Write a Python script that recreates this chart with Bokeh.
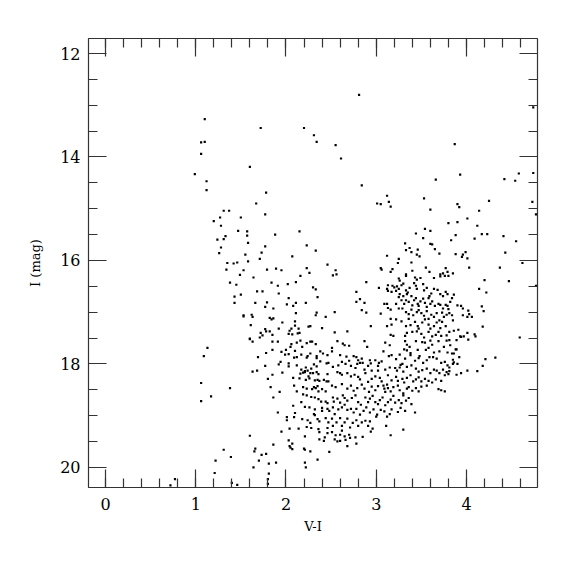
from bokeh.plotting import figure
from bokeh.models import Range1d, LinearAxis, FixedTicker
from bokeh.embed import file_html
from bokeh.resources import INLINE

# --- data: V-I colour and I magnitude of stars ---
# bright / sparse stars
vi_bright = [1.10, 1.06, 1.10, 1.06, 0.99, 1.12, 1.72, 2.20, 2.31, 2.34, 1.60,
             2.81, 2.55, 2.61, 3.66, 2.84, 4.74, 3.87, 3.93, 4.42, 4.58, 4.54, 4.74, 1.12]
i_bright = [13.27, 13.72, 13.71, 13.94, 14.33, 14.47, 13.44, 13.44, 13.58, 13.71, 14.19,
            12.80, 13.77, 14.03, 14.44, 14.55, 13.04, 13.75, 14.34, 14.43, 14.32, 14.46, 14.31, 14.64]

# blue / upper-left region
vi_blue = [1.78, 1.67, 1.31, 1.37, 1.27, 1.50, 1.77, 1.20, 1.28, 1.47, 1.57, 1.57, 1.88, 2.15,
           1.33, 1.24, 1.31, 1.58, 1.77, 1.28, 2.23, 2.33, 1.26, 1.73, 1.55, 2.07, 1.71, 1.58,
           1.35, 1.42, 1.46, 2.46, 1.34, 1.53, 1.79, 1.89, 1.95, 2.23, 2.26, 1.49, 2.16, 1.64,
           1.38, 1.45, 1.84, 1.91, 2.02, 2.11, 2.30, 2.33, 1.68, 1.74, 1.50, 1.43, 1.92, 2.03,
           2.35, 1.43, 1.66, 1.79, 2.01, 2.08, 2.11, 2.22, 1.77, 1.86, 1.53, 1.53, 1.62, 1.63,
           1.82, 1.84, 1.86, 2.11, 2.34, 2.33, 2.44, 1.96, 1.61, 2.10, 2.10, 2.25, 2.27, 2.40,
           1.92, 1.77, 1.78, 1.82, 2.06, 2.04, 2.14, 1.72, 1.74, 1.85, 2.03, 2.07, 2.13, 2.15,
           1.71, 1.60]
i_blue = [14.69, 14.90, 15.04, 15.04, 15.17, 15.17, 15.11, 15.24, 15.33, 15.43, 15.44, 15.52,
          15.50, 15.44, 15.53, 15.60, 15.59, 15.66, 15.73, 15.75, 15.71, 15.81, 15.86, 15.85,
          15.89, 15.92, 15.97, 16.02, 16.05, 16.06, 16.04, 16.08, 16.18, 16.19, 16.18, 16.16,
          16.19, 16.15, 16.24, 16.28, 16.30, 16.33, 16.43, 16.47, 16.43, 16.49, 16.46, 16.42,
          16.52, 16.56, 16.60, 16.60, 16.66, 16.70, 16.64, 16.73, 16.71, 16.82, 16.82, 16.81,
          16.85, 16.88, 16.82, 16.82, 16.90, 16.93, 17.06, 17.08, 17.05, 17.09, 17.11, 17.14,
          17.12, 17.02, 17.01, 17.06, 17.09, 17.20, 17.25, 17.18, 17.26, 17.28, 17.27, 17.31,
          17.32, 17.33, 17.37, 17.37, 17.32, 17.36, 17.32, 17.40, 17.45, 17.44, 17.42, 17.43,
          17.41, 17.40, 17.49, 17.51]

# red giant region (upper part)
vi_red = [3.12, 3.01, 3.05, 3.14, 3.16, 3.53, 3.60, 3.80, 3.44, 3.54, 3.60, 3.52, 3.32, 3.60,
          3.62, 3.37, 3.46, 3.65, 3.33, 3.39, 3.45, 3.48, 3.70, 3.12, 3.25, 3.24, 3.39, 3.05,
          3.06, 3.18, 3.16, 3.55, 3.59, 3.77, 3.79, 3.74, 2.55, 2.52, 2.56, 3.40, 3.33, 3.33,
          3.43]
i_red = [14.75, 14.90, 14.91, 14.87, 14.96, 14.80, 15.02, 15.28, 15.48, 15.39, 15.43, 15.57,
         15.67, 15.68, 15.69, 15.76, 15.79, 15.78, 15.80, 15.84, 15.89, 15.92, 15.87, 15.91,
         15.97, 16.05, 16.04, 16.15, 16.18, 16.17, 16.22, 16.14, 16.22, 16.15, 16.22, 16.25,
         16.19, 16.29, 16.27, 16.20, 16.27, 16.30, 16.33]

# very red stars
vi_vred = [4.25, 3.90, 3.92, 4.73, 4.14, 4.77, 4.01, 3.90, 4.12, 3.88, 3.83, 4.09, 4.17, 4.23,
           4.41, 4.55, 3.88, 3.96, 3.95, 3.99, 4.01, 4.43, 4.62, 4.03, 4.37, 3.85, 3.80, 4.20,
           4.47, 4.77, 4.14, 4.22, 4.17, 4.19, 4.18, 4.09, 4.10, 4.59, 4.21, 4.32, 4.18, 4.12]
i_vred = [14.85, 14.91, 14.97, 14.87, 15.04, 15.11, 15.19, 15.26, 15.33, 15.51, 15.61, 15.58,
          15.49, 15.49, 15.53, 15.63, 15.88, 15.89, 15.93, 15.84, 15.96, 15.85, 16.05, 16.14,
          16.14, 16.25, 16.30, 16.38, 16.40, 16.49, 16.55, 16.62, 16.89, 16.98, 17.28, 17.43,
          17.47, 17.49, 17.91, 17.88, 18.04, 18.14]

# faint blue stars
vi_faint = [1.13, 1.09, 1.06, 1.06, 0.77, 0.72]
i_faint = [17.69, 17.85, 18.37, 18.72, 20.23, 20.35]

# main body, left part
vi_body = [1.60, 1.63, 1.85, 1.91, 2.06, 2.12, 2.16, 2.23, 2.27, 2.29, 2.33, 2.05, 2.00, 2.18,
           1.78, 1.85, 1.95, 1.99, 2.03, 2.10, 2.12, 2.17, 2.23, 2.24, 2.27, 2.34, 2.34, 2.38,
           2.41, 2.46, 1.69, 1.94, 1.92, 2.03, 2.09, 1.77, 2.03, 2.12, 2.17, 2.22, 2.24, 2.21,
           2.28, 2.31, 2.34, 2.38, 2.45, 1.63, 1.68, 1.85, 1.96, 2.16, 2.19, 2.21, 2.25, 2.27,
           2.30, 2.34, 2.36, 2.46, 1.80, 2.08, 2.15, 2.26, 2.22, 2.32, 2.35, 2.37, 2.42, 2.45,
           1.17, 1.38, 1.83, 1.93, 2.09, 2.19, 2.23, 2.12, 2.29, 2.31, 2.35, 2.33, 2.36, 2.40,
           2.44, 1.86, 2.19, 2.23, 2.28, 2.32, 2.36, 2.39, 2.44, 2.46, 2.08, 2.17, 2.21, 2.26,
           2.32, 2.40, 2.40, 2.46, 1.91, 2.01, 2.01, 2.09, 2.10, 2.31, 2.32, 2.18, 2.24, 2.27,
           2.35, 2.37, 2.44, 1.95, 2.04, 2.14, 2.23, 2.28, 2.36, 2.37, 2.46, 1.60, 2.03, 2.07,
           2.04, 2.05, 2.07, 2.21, 2.37, 2.42, 2.43, 2.46, 1.31, 1.66, 1.65, 1.73, 1.78, 1.86,
           2.20, 2.21, 2.27, 1.39, 1.22, 1.70, 1.81, 1.89, 2.21, 2.35, 1.21, 1.64, 2.22, 1.81,
           1.40, 1.46, 1.80, 1.80]
i_body = [17.52, 17.57, 17.57, 17.57, 17.62, 17.59, 17.55, 17.60, 17.57, 17.57, 17.62, 17.67,
          17.73, 17.67, 17.79, 17.73, 17.77, 17.82, 17.81, 17.75, 17.87, 17.82, 17.88, 17.85,
          17.80, 17.85, 17.89, 17.76, 17.80, 17.83, 17.87, 17.96, 18.01, 17.99, 17.88, 18.04,
          18.05, 18.03, 18.11, 18.07, 18.13, 18.14, 18.09, 18.01, 18.05, 17.95, 17.99, 18.15,
          18.13, 18.21, 18.17, 18.19, 18.17, 18.16, 18.24, 18.18, 18.18, 18.16, 18.20, 18.20,
          18.29, 18.27, 18.28, 18.28, 18.31, 18.32, 18.31, 18.33, 18.31, 18.34, 18.63, 18.47,
          18.45, 18.54, 18.42, 18.45, 18.48, 18.53, 18.49, 18.45, 18.43, 18.47, 18.53, 18.49,
          18.53, 18.65, 18.59, 18.61, 18.64, 18.65, 18.68, 18.73, 18.73, 18.76, 18.81, 18.74,
          18.83, 18.84, 18.88, 18.85, 18.91, 18.87, 18.94, 19.03, 19.09, 19.03, 18.95, 18.97,
          18.99, 19.07, 19.09, 19.14, 19.07, 19.11, 19.05, 19.31, 19.25, 19.25, 19.22, 19.24,
          19.26, 19.32, 19.24, 19.39, 19.48, 19.54, 19.59, 19.62, 19.65, 19.40, 19.46, 19.49,
          19.42, 19.34, 19.66, 19.64, 19.69, 19.76, 19.74, 19.56, 19.64, 19.66, 19.69, 19.80,
          19.87, 19.87, 19.93, 19.91, 19.91, 19.85, 20.11, 20.00, 20.00, 20.12, 20.30, 20.34,
          20.23, 20.32]

# red clump / red giant branch, dense part (V-I, I) pairs
rgb_pairs = [
    (3.49, 16.34), (3.45, 16.37), (3.64, 16.34), (3.71, 16.31), (3.71, 16.27), (3.76, 16.30),
    (3.25, 16.35), (3.26, 16.39), (2.89, 16.42), (3.03, 16.53), (2.78, 16.61), (2.82, 16.75),
    (2.78, 16.80), (2.87, 16.82), (2.54, 17.00), (2.84, 16.96), (2.89, 17.01), (3.05, 17.03),
    (2.54, 17.39), (2.68, 17.37), (2.94, 17.27), (3.13, 16.48), (3.18, 16.49), (3.20, 16.52),
    (3.23, 16.50), (3.28, 16.48), (3.30, 16.45), (3.25, 16.55), (3.22, 16.59), (3.13, 16.59),
    (3.12, 16.55), (3.17, 16.61), (3.26, 16.65), (3.33, 16.58), (3.35, 16.62), (3.37, 16.53),
    (3.42, 16.44), (3.44, 16.49), (3.45, 16.55), (3.52, 16.46), (3.53, 16.58), (3.56, 16.53),
    (3.59, 16.69), (3.61, 16.64), (3.64, 16.55), (3.68, 16.57), (3.71, 16.65), (3.74, 16.69),
    (3.77, 16.61), (3.79, 16.65), (3.09, 16.84), (3.12, 16.84), (3.13, 16.92), (3.16, 16.95),
    (3.22, 16.84), (3.25, 16.71), (3.28, 16.77), (3.30, 16.69), (3.31, 16.84), (3.33, 16.77),
    (3.34, 16.65), (3.36, 16.80), (3.39, 16.69), (3.40, 16.87), (3.42, 16.77), (3.44, 16.73),
    (3.46, 16.84), (3.47, 16.88), (3.49, 16.79), (3.52, 16.74), (3.54, 16.82), (3.56, 16.90),
    (3.58, 16.73), (3.60, 16.84), (3.62, 16.79), (3.65, 16.88), (3.69, 16.84), (3.71, 16.86),
    (3.74, 16.93), (3.77, 16.86), (3.79, 16.88), (3.25, 16.93), (3.29, 16.93), (3.33, 17.00),
    (3.36, 17.04), (3.39, 16.95), (3.41, 17.06), (3.45, 17.00), (3.47, 16.96), (3.50, 17.02),
    (3.53, 17.07), (3.56, 16.98), (3.58, 17.13), (3.61, 17.05), (3.64, 17.09), (3.67, 17.02),
    (3.70, 17.16), (3.73, 17.01), (3.75, 17.09), (3.78, 17.05), (3.16, 17.13), (3.22, 17.14),
    (3.28, 17.18), (3.36, 17.13), (3.33, 17.27), (3.38, 17.25), (3.43, 17.19), (3.46, 17.27),
    (3.47, 17.32), (3.51, 17.20), (3.54, 17.14), (3.58, 17.24), (3.60, 17.32), (3.64, 17.27),
    (3.67, 17.20), (3.71, 17.31), (3.73, 17.19), (3.77, 17.27), (3.12, 17.27), (3.17, 17.24),
    (3.16, 17.44), (3.19, 17.46), (3.32, 17.46), (3.34, 17.40), (3.40, 17.38), (3.45, 17.37),
    (3.50, 17.42), (3.53, 17.49), (3.58, 17.38), (3.62, 17.47), (3.66, 17.44), (3.69, 17.38),
    (3.72, 17.46), (3.78, 17.45),
]

# reddest edge of the dense part
edge_pairs = [
    (3.86, 16.66), (3.84, 16.73), (3.82, 16.80), (3.90, 16.87), (3.94, 16.88), (3.96, 16.93),
    (3.80, 16.94), (3.81, 17.02), (4.02, 16.97), (3.84, 17.06), (4.03, 17.04), (3.96, 17.06),
    (4.06, 17.09), (4.01, 17.09), (3.85, 17.16), (3.91, 17.34), (3.86, 17.36), (3.81, 17.38),
    (4.01, 17.40), (3.93, 17.47), (3.97, 17.47), (3.94, 17.48), (3.81, 17.54), (3.89, 17.54),
    (4.02, 17.53), (3.82, 17.64), (3.88, 17.72), (3.89, 17.72), (3.84, 17.80), (3.86, 17.80),
    (3.92, 17.87), (3.85, 17.92), (3.86, 17.97), (3.85, 18.00), (3.90, 18.00), (3.81, 18.07),
    (3.81, 18.14), (3.80, 18.20), (3.89, 18.21), (3.94, 18.18), (4.01, 18.13),
]

# dense lower part (main-sequence turn-off region and lower giant branch)
lower_pairs = [
    (2.57, 17.56), (2.63, 17.61), (2.65, 17.64), (2.70, 17.65), (2.87, 17.56), (2.90, 17.67),
    (3.10, 17.59), (3.15, 17.64), (3.32, 17.56), (3.34, 17.63), (3.37, 17.67), (3.44, 17.56),
    (3.51, 17.58), (3.54, 17.59), (3.60, 17.55), (3.62, 17.63), (3.69, 17.56), (3.78, 17.55),
    (2.51, 17.69), (2.51, 17.76), (3.31, 17.72), (3.34, 17.74), (3.38, 17.79), (3.26, 17.82),
    (3.08, 17.76), (3.46, 17.73), (3.55, 17.73), (3.58, 17.69), (3.64, 17.78), (3.70, 17.76),
    (3.75, 17.67), (3.79, 17.78), (2.60, 17.83), (2.67, 17.86), (2.75, 17.85), (2.78, 17.87),
    (2.80, 17.93), (2.84, 17.90), (2.82, 17.98), (2.85, 17.98), (2.93, 17.93), (2.94, 17.99),
    (2.99, 17.93), (3.03, 17.98), (3.06, 17.95), (3.14, 17.85), (3.17, 17.83), (3.22, 17.91),
    (3.27, 18.02), (3.29, 18.00), (3.32, 17.90), (3.38, 17.83), (3.43, 17.94), (3.47, 17.89),
    (3.48, 17.85), (3.52, 17.98), (3.56, 17.93), (3.59, 17.87), (3.63, 17.87), (3.67, 17.90),
    (3.72, 17.98), (3.76, 17.96), (3.79, 18.03), (2.47, 17.98), (2.52, 18.06), (2.58, 18.03),
    (2.62, 17.96), (2.66, 18.00), (2.70, 17.94), (2.72, 18.04), (2.77, 18.08), (2.79, 18.00),
    (2.87, 18.11), (2.91, 18.04), (2.95, 18.13), (3.02, 18.13), (3.02, 18.04), (3.10, 18.11),
    (3.15, 18.07), (3.21, 18.08), (3.23, 18.13), (3.26, 18.07), (3.30, 18.15), (3.34, 18.06),
    (3.39, 18.03), (3.44, 18.09), (3.47, 18.15), (3.51, 18.12), (3.56, 18.09), (3.60, 18.18),
    (3.64, 18.11), (3.67, 18.13), (3.70, 18.18), (3.74, 18.11), (3.78, 18.16), (2.57, 18.16),
    (2.60, 18.18), (2.62, 18.21), (2.68, 18.18), (2.72, 18.24), (2.76, 18.21), (2.80, 18.25),
    (2.82, 18.30), (2.88, 18.18), (2.91, 18.35), (2.95, 18.29), (2.99, 18.24), (3.04, 18.27),
    (3.06, 18.34), (3.13, 18.22), (3.17, 18.32), (3.22, 18.25), (3.24, 18.33), (3.29, 18.29),
    (3.31, 18.36), (3.34, 18.27), (3.38, 18.22), (3.41, 18.34), (3.44, 18.30), (3.47, 18.26),
    (3.50, 18.34), (3.54, 18.29), (3.58, 18.33), (3.62, 18.36), (3.66, 18.30), (3.72, 18.33),
    (3.76, 18.22), (2.47, 18.34), (2.51, 18.42), (2.55, 18.45), (2.62, 18.39), (2.68, 18.48),
    (2.72, 18.42), (2.75, 18.52), (2.79, 18.47), (2.84, 18.40), (2.87, 18.48), (2.92, 18.54),
    (2.95, 18.44), (2.99, 18.51), (3.02, 18.43), (3.08, 18.42), (3.09, 18.48), (3.12, 18.40),
    (3.13, 18.47), (3.10, 18.54), (3.16, 18.53), (3.19, 18.45), (3.24, 18.42), (3.26, 18.51),
    (3.30, 18.57), (3.34, 18.48), (3.36, 18.45), (3.40, 18.52), (3.44, 18.47), (3.47, 18.53),
    (3.50, 18.44), (3.56, 18.42), (3.69, 18.49), (3.72, 18.51), (3.76, 18.53), (2.52, 18.65),
    (2.53, 18.73), (2.57, 18.67), (2.60, 18.75), (2.63, 18.61), (2.65, 18.66), (2.68, 18.71),
    (2.73, 18.66), (2.77, 18.61), (2.80, 18.74), (2.83, 18.79), (2.88, 18.65), (2.91, 18.74),
    (2.93, 18.67), (2.96, 18.62), (2.99, 18.74), (3.02, 18.78), (3.04, 18.70), (3.07, 18.65),
    (3.10, 18.80), (3.13, 18.74), (3.16, 18.69), (3.19, 18.62), (3.21, 18.75), (3.25, 18.70),
    (3.28, 18.76), (3.33, 18.71), (3.36, 18.66), (3.39, 18.78), (3.30, 18.61), (2.48, 18.91),
    (2.52, 18.84), (2.54, 18.97), (2.58, 18.88), (2.62, 18.84), (2.65, 18.79), (2.68, 18.89),
    (2.72, 18.87), (2.75, 18.94), (2.78, 18.87), (2.82, 18.98), (2.86, 18.91), (2.89, 18.84),
    (2.93, 18.94), (2.97, 18.88), (3.01, 18.98), (3.05, 18.89), (3.09, 18.92), (3.12, 19.02),
    (3.15, 18.97), (3.17, 18.88), (3.24, 18.93), (3.27, 18.85), (3.32, 18.91), (3.43, 18.94),
    (2.47, 19.13), (2.51, 19.06), (2.52, 19.20), (2.56, 19.13), (2.60, 19.05), (2.62, 19.20),
    (2.65, 19.13), (2.68, 19.06), (2.71, 19.23), (2.74, 19.14), (2.78, 19.09), (2.80, 19.20),
    (2.84, 19.13), (2.88, 19.10), (2.91, 19.20), (2.93, 19.11), (2.96, 19.25), (3.00, 19.02),
    (3.11, 19.20), (3.30, 19.27), (2.51, 19.32), (2.55, 19.38), (2.60, 19.37), (2.62, 19.29),
    (2.65, 19.40), (2.70, 19.37), (2.71, 19.43), (2.77, 19.42), (2.85, 19.41), (2.94, 19.31),
    (3.16, 19.38), (2.54, 19.46), (2.57, 19.50), (2.60, 19.49), (2.66, 19.47), (2.68, 19.59),
    (2.78, 19.54), (2.48, 19.70),
]

pairs = rgb_pairs + edge_pairs + lower_pairs
vi_all = vi_bright + vi_blue + vi_red + vi_vred + vi_faint + vi_body + [a for a, b in pairs]
i_all = i_bright + i_blue + i_red + i_vred + i_faint + i_body + [b for a, b in pairs]

x_major = [0, 1, 2, 3, 4]
y_major = [12, 14, 16, 18, 20]
x_minor = [round(0.2 * k, 1) for k in range(-1, 25)]
y_minor = [11.5 + 0.5 * k for k in range(0, 20)]

FONT = "DejaVu Serif"

p = figure(output_backend="svg", toolbar_location=None,
           x_range=Range1d(-0.188, 4.787), y_range=Range1d(20.39, 11.71),
           frame_width=449, frame_height=449,
           min_border_left=88, min_border_top=38, min_border_right=30, min_border_bottom=70)
p.grid.visible = False
p.outline_line_color = "#333333"
p.outline_line_width = 1.2

bottom = p.below[0]
left = p.left[0]
bottom.axis_label = "V-I"
left.axis_label = "I (mag)"
bottom.ticker = FixedTicker(ticks=x_major, minor_ticks=x_minor)
left.ticker = FixedTicker(ticks=y_major, minor_ticks=y_minor)

top = LinearAxis(ticker=FixedTicker(ticks=x_major, minor_ticks=x_minor))
right = LinearAxis(ticker=FixedTicker(ticks=y_major, minor_ticks=y_minor))
p.add_layout(top, "above")
p.add_layout(right, "right")

for ax in [bottom, left, top, right]:
    ax.axis_line_color = None
    ax.major_tick_in = 18
    ax.major_tick_out = 0
    ax.minor_tick_in = 9
    ax.minor_tick_out = 0
    ax.major_tick_line_color = "#333333"
    ax.minor_tick_line_color = "#333333"
    ax.major_tick_line_width = 1.2
    ax.minor_tick_line_width = 1.2
    ax.major_label_text_font = FONT
    ax.major_label_text_font_size = "16px"
    ax.major_label_text_color = "black"
    ax.axis_label_text_font = FONT
    ax.axis_label_text_font_size = "13px"
    ax.axis_label_text_font_style = "normal"
    ax.axis_label_text_color = "black"

for ax in [top, right]:
    ax.major_label_text_font_size = "0px"
    ax.major_label_text_color = None

bottom.major_label_standoff = 10
bottom.axis_label_standoff = 6
left.major_label_standoff = 8
left.axis_label_standoff = 14
left.major_label_orientation = "horizontal"

p.scatter(vi_all, i_all, marker="square", size=2.2, fill_color="black", line_color=None)

open("out.html", "w").write(file_html(p, INLINE))
